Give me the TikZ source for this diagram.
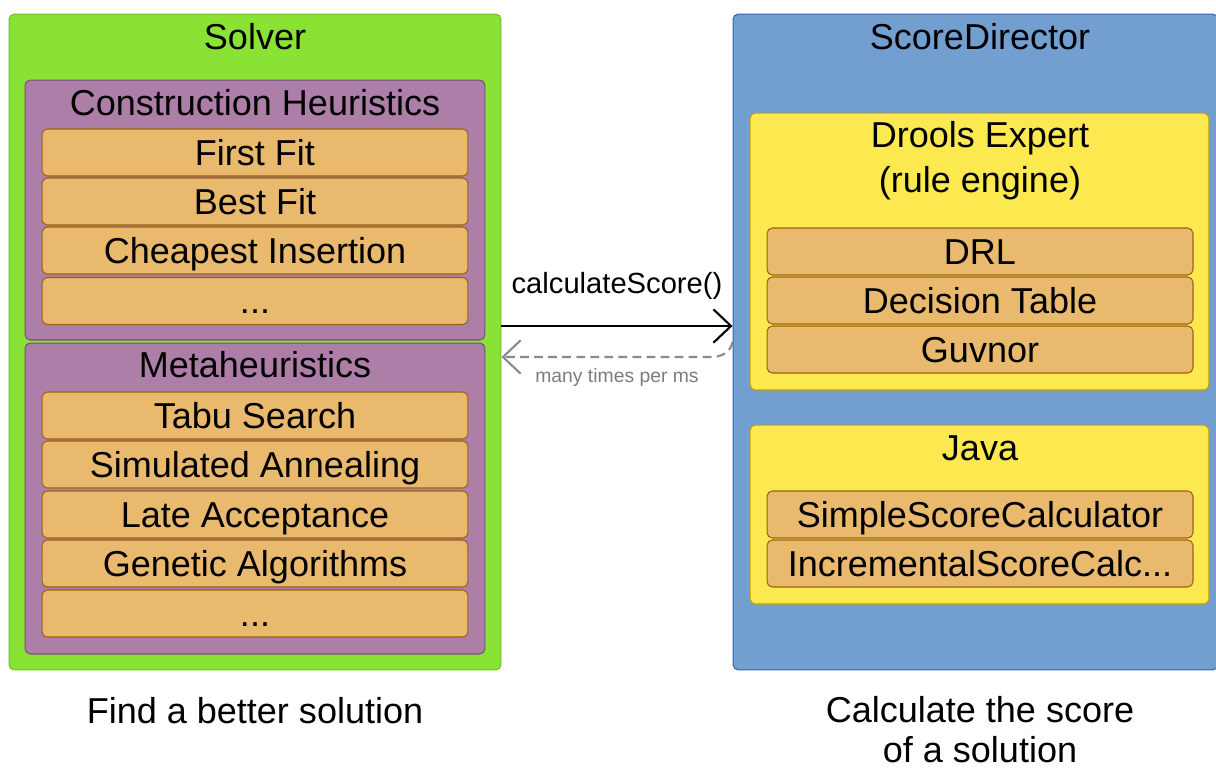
\documentclass[tikz,border=0pt]{standalone}
\usepackage{fontspec}
\setmainfont{Liberation Sans}
\usepackage{xcolor}
\usepackage{tikz}
\usetikzlibrary{arrows.meta}
\definecolor{solvergreen}{HTML}{8AE234}
\definecolor{solverline}{HTML}{6CC02A}
\definecolor{heurpurple}{HTML}{AD7FA8}
\definecolor{heurline}{HTML}{75507B}
\definecolor{itemorange}{HTML}{E9B96E}
\definecolor{itemline}{HTML}{9A6411}
\definecolor{directorblue}{HTML}{729FCF}
\definecolor{directorline}{HTML}{3465A4}
\definecolor{engineyellow}{HTML}{FCE94F}
\definecolor{engineline}{HTML}{C4A000}
\definecolor{returngray}{HTML}{8A8A8A}

\begin{document}
\begin{tikzpicture}[x=0.02cm,y=-0.02cm,
    font=\fontsize{20.5}{24}\selectfont,
    frame/.style={draw,rounded corners=3pt,line width=0.6pt,inner sep=0pt},
    item/.style={frame,fill=itemorange,draw=itemline,minimum width=8.52cm,
      minimum height=0.94cm,text height=14.7pt,text depth=0pt},
    title/.style={anchor=base,inner sep=0pt},
    callarrow/.style={line width=1.2pt,-{Straight Barb[length=10pt,width=19pt]}}]
  \useasboundingbox (0,0) rectangle (1216,769);
  % solver side
  \node[frame,fill=solvergreen,draw=solverline,minimum width=9.84cm,minimum height=13.12cm] (solver) at (255,342) {};
  \node[title] (solvertitle) at (255,49) {Solver};
  \node[frame,fill=heurpurple,draw=heurline,minimum width=9.2cm,minimum height=5.2cm] (construct) at (255,210) {};
  \node[title] (constructtitle) at (255,115) {Construction Heuristics};
  \node[item] (firstfit) at (255,152.5) {First Fit};
  \node[item] (bestfit) at (255,201.5) {Best Fit};
  \node[item] (cheapest) at (255,250.5) {Cheapest Insertion};
  \node[item] (constructmore) at (255,301) {...};
  \node[frame,fill=heurpurple,draw=heurline,minimum width=9.2cm,minimum height=6.22cm] (meta) at (255,498.5) {};
  \node[title] (metatitle) at (255,377) {Metaheuristics};
  \node[item] (tabu) at (255,415.5) {Tabu Search};
  \node[item] (annealing) at (255,464.5) {Simulated Annealing};
  \node[item] (late) at (255,514.5) {Late Acceptance};
  \node[item] (genetic) at (255,563.5) {Genetic Algorithms};
  \node[item] (metamore) at (255,613.5) {...};
  \node[title] (solvernote) at (255,723) {Find a better solution};
  % score director side
  \node[frame,fill=directorblue,draw=directorline,minimum width=9.7cm,minimum height=13.12cm] (director) at (975.5,342) {};
  \node[title] (directortitle) at (980,49) {ScoreDirector};
  \node[frame,fill=engineyellow,draw=engineline,minimum width=9.18cm,minimum height=5.54cm] (drools) at (979.5,251.5) {};
  \node[title] (droolstitle) at (980,147) {Drools Expert};
  \node[title] (droolssub) at (980,192) {(rule engine)};
  \node[item] (drl) at (980,251.5) {DRL};
  \node[item] (decision) at (980,300.5) {Decision Table};
  \node[item] (guvnor) at (980,349.5) {Guvnor};
  \node[frame,fill=engineyellow,draw=engineline,minimum width=9.18cm,minimum height=3.58cm] (java) at (979.5,514.5) {};
  \node[title] (javatitle) at (980,460) {Java};
  \node[item] (simple) at (980,514.5) {SimpleScoreCalculator};
  \node[item] (incremental) at (980,563.5) {IncrementalScoreCalc...};
  \node[title] (directornote) at (980,722) {Calculate the score};
  \node[title] (directornote2) at (980,762) {of a solution};
  % calls between them
  \draw[callarrow] ([yshift=0.32cm]solver.east) -- ([yshift=0.32cm]director.west);
  \node[title,font=\fontsize{16.6}{20}\selectfont] (calllabel) at (617,293) {calculateScore()};
  \draw[callarrow,returngray,dashed,dash pattern=on 5pt off 3pt]
    (director.west) to[out=-100,in=0] ([xshift=-0.42cm,yshift=-0.3cm]director.west)
    -- ([yshift=-0.3cm]solver.east);
  \node[title,text=returngray!90!black,font=\fontsize{11}{13}\selectfont] (returnlabel) at (617,382) {many times per ms};
\end{tikzpicture}
\end{document}
